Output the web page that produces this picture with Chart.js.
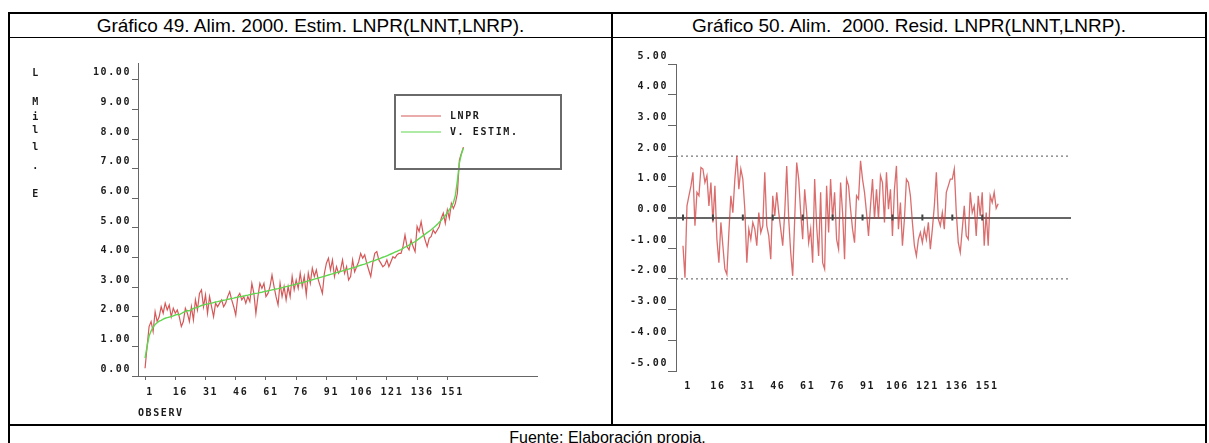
<!DOCTYPE html>
<html lang="es">
<head>
<meta charset="utf-8">
<title>Gráficos 49 y 50</title>
<script src="https://cdn.jsdelivr.net/npm/chart.js@4.4.1/dist/chart.umd.min.js"></script>
<style>
  html, body { margin: 0; padding: 0; background: #fff; }
  body { position: relative; width: 1209px; height: 443px; overflow: hidden; font-family: "Liberation Sans", Arial, sans-serif; color: #000; }
  .rule { position: absolute; background: #000; }
  .cap { position: absolute; font-size: 19px; line-height: 22px; text-align: center; white-space: pre; }
  .foot { position: absolute; font-size: 16px; line-height: 20px; text-align: center; }
  canvas { position: absolute; }
</style>
</head>
<body>
  <div class="rule" style="left:8px; top:12px; width:1199px; height:2px;"></div>
  <div class="rule" style="left:8px; top:37px; width:1199px; height:1px;"></div>
  <div class="rule" style="left:8px; top:424px; width:1199px; height:2px;"></div>
  <div class="rule" style="left:8px; top:12px; width:2px; height:431px;"></div>
  <div class="rule" style="left:1205px; top:12px; width:2px; height:431px;"></div>
  <div class="rule" style="left:611px; top:12px; width:2px; height:414px;"></div>
  <div class="cap" style="left:10px; width:601px; top:15px;">Gráfico 49. Alim. 2000. Estim. LNPR(LNNT,LNRP).</div>
  <div class="cap" style="left:613px; width:592px; top:15px;">Gráfico 50. Alim.  2000. Resid. LNPR(LNNT,LNRP).</div>
  <div class="foot" style="left:10px; width:1195px; top:428px;">Fuente: Elaboración propia.</div>
  <canvas id="estim" width="600" height="385" style="left:10px; top:39px;"></canvas>
  <canvas id="resid" width="592" height="385" style="left:613px; top:39px;"></canvas>

<script>
// observed LNPR (gráfico 49, red)
var lnpr = [
  0.26, 0.99, 1.67, 1.84, 1.50, 2.17, 1.84, 2.00, 2.34, 2.12,
  2.46, 2.23, 2.40, 2.00, 2.29, 2.12, 2.23, 2.00, 1.67, 1.84,
  2.29, 2.12, 1.84, 2.34, 1.89, 2.57, 2.23, 2.79, 2.91, 2.34,
  2.74, 2.12, 2.68, 2.34, 2.00, 2.46, 2.34, 2.46, 2.57, 2.34,
  2.46, 2.68, 2.85, 2.57, 2.34, 2.06, 2.68, 2.79, 2.57, 2.68,
  2.46, 2.68, 2.51, 3.13, 2.79, 2.11, 2.68, 3.13, 2.96, 3.13,
  2.68, 2.79, 3.02, 3.41, 3.02, 2.68, 2.40, 3.13, 2.68, 3.02,
  2.57, 3.02, 2.68, 3.36, 2.91, 3.24, 2.96, 3.47, 3.02, 3.36,
  2.74, 3.47, 3.13, 3.64, 3.36, 3.58, 3.24, 3.02, 2.79, 3.47,
  3.81, 3.98, 3.58, 3.92, 3.36, 3.69, 3.47, 3.58, 3.92, 3.47,
  3.69, 3.24, 3.36, 3.92, 3.52, 3.69, 3.86, 4.14, 3.98, 4.09,
  3.81, 3.58, 3.36, 3.81, 4.14, 4.20, 3.92, 3.81, 3.69, 3.75,
  3.92, 3.69, 3.86, 4.03, 3.98, 4.09, 4.14, 4.14, 4.37, 4.76,
  4.37, 4.26, 4.59, 4.37, 4.20, 5.05, 4.88, 5.21, 4.82, 4.59,
  4.37, 4.65, 4.71, 4.93, 4.82, 4.93, 5.05, 5.33, 5.50, 5.16,
  5.61, 5.33, 5.83, 5.66, 5.83, 6.17, 7.30, 7.52, 7.73
];

// fitted values (green)
var estim = [
  0.60, 1.00, 1.35, 1.52, 1.65, 1.74, 1.80, 1.85, 1.88, 1.92,
  1.95, 1.97, 1.99, 2.01, 2.03, 2.06, 2.08, 2.07, 2.11, 2.15,
  2.18, 2.21, 2.20, 2.24, 2.28, 2.30, 2.32, 2.35, 2.38, 2.40,
  2.42, 2.43, 2.45, 2.46, 2.48, 2.50, 2.51, 2.53, 2.54, 2.56,
  2.57, 2.59, 2.60, 2.62, 2.63, 2.65, 2.66, 2.68, 2.69, 2.70,
  2.72, 2.73, 2.75, 2.76, 2.78, 2.79, 2.80, 2.82, 2.83, 2.85,
  2.86, 2.88, 2.89, 2.91, 2.92, 2.94, 2.95, 2.97, 2.98, 3.00,
  3.02, 3.03, 3.05, 3.07, 3.08, 3.10, 3.12, 3.14, 3.15, 3.17,
  3.19, 3.21, 3.23, 3.25, 3.27, 3.29, 3.31, 3.33, 3.35, 3.37,
  3.39, 3.41, 3.43, 3.45, 3.47, 3.49, 3.51, 3.53, 3.55, 3.57,
  3.59, 3.61, 3.63, 3.65, 3.67, 3.69, 3.72, 3.74, 3.76, 3.78,
  3.81, 3.83, 3.86, 3.88, 3.90, 3.93, 3.95, 3.98, 4.01, 4.03,
  4.06, 4.09, 4.12, 4.15, 4.18, 4.21, 4.24, 4.27, 4.31, 4.35,
  4.38, 4.42, 4.46, 4.50, 4.54, 4.59, 4.64, 4.69, 4.74, 4.79,
  4.84, 4.89, 4.94, 5.00, 5.06, 5.12, 5.19, 5.26, 5.34, 5.42,
  5.52, 5.62, 5.72, 5.85, 6.10, 6.60, 7.20, 7.50, 7.70
];

// residuals (gráfico 50)
var resid = [
  -0.92, -1.96, 0.38, 0.71, 1.03, 1.47, -0.27, 0.82, 0.71, 1.63,
  1.58, 1.14, 1.36, 0.38, 1.14, -0.16, 1.03, -0.71, -1.47, -0.16,
  -0.92, -1.68, -1.85, -0.49, 0.71, 0.16, 1.25, 2.01, 0.92, 1.58,
  1.25, 0.27, -1.47, -0.38, -0.71, -0.16, -0.38, -0.92, 0.16, -0.49,
  -0.27, 1.47, -0.27, -0.60, -1.36, 0.71, 0.05, 0.82, 0.16, -0.38,
  -0.92, 0.16, 1.68, -0.05, -1.14, -1.90, -0.05, 1.79, 1.25, 0.16,
  -0.71, 0.92, 0.16, -0.82, -0.38, -1.47, 1.25, -0.27, -1.25, 0.82,
  -1.47, -1.68, 1.03, -0.49, 1.25, -0.05, 0.82, -0.71, -1.03, 1.14,
  0.16, -1.36, 1.25, 1.03, 0.27, -0.38, -0.82, 0.71, 0.60, 1.85,
  1.25, 0.82, 0.16, -0.60, 0.38, 1.25, -0.05, 0.92, -0.05, 1.36,
  1.14, -0.16, 1.47, 0.27, 0.92, -0.60, 0.92, 1.68, -0.38, 0.49,
  -0.92, -0.05, 1.25, 1.14, 0.71, -0.16, -0.92, -1.25, -0.71, -0.49,
  -0.82, -0.38, -0.71, -0.16, -1.03, -0.38, 0.38, 1.47, -0.05, -0.27,
  0.16, -0.38, 0.82, 1.03, 1.25, 1.25, 1.58, 0.16, -0.82, -1.14,
  -0.38, 0.38, -0.60, -0.71, 0.82, 0.16, 0.38, -0.60, 0.71, 0.05,
  0.82, -0.92, 0.16, -0.92, 0.71, 0.49, 0.82, 0.30, 0.45
];

var xTicks = [1, 16, 31, 46, 61, 76, 91, 106, 121, 136, 151];
var yTicksEstim = [0, 1, 2, 3, 4, 5, 6, 7, 8, 9, 10];
var yTicksResid = [-5, -4, -3, -2, -1, 0, 1, 2, 3, 4, 5];
var bandLevels = [2, -2];
var axisLabelChars = ['L', 'M', 'i', 'l', 'l', '.', 'E'];
var obs = lnpr.map(function (v, i) { return i + 1; });

var X_MIN = -2.5, X_MAX = 195.5;
var TICK_FONT = { family: '"DejaVu Sans Mono", monospace', size: 10, weight: 'bold' };
var INK = '#1a1a1a';

Chart.defaults.font.family = TICK_FONT.family;
Chart.defaults.font.size = 10;
Chart.defaults.font.weight = 'bold';
Chart.defaults.color = INK;

// wide pixel-like look of the old DOS fonts
var spacing = {
    id: 'spacing',
    beforeLayout: function (chart) { chart.ctx.letterSpacing = '1.6px'; },
    beforeDraw: function (chart) { chart.ctx.letterSpacing = '1.6px'; }
};

var legendBox = {
    id: 'legendBox',
    afterDraw: function (chart) {
        var ctx = chart.ctx;
        ctx.save();
        ctx.strokeStyle = '#6a6a6a';
        ctx.lineWidth = 2;
        ctx.strokeRect(385, 56, 166, 74);
        chart.data.datasets.forEach(function (ds, i) {
            var y = 77 + i * 16;
            ctx.strokeStyle = ds.borderColor;
            ctx.lineWidth = 1.2;
            ctx.beginPath();
            ctx.moveTo(391, y);
            ctx.lineTo(431, y);
            ctx.stroke();
            ctx.fillStyle = INK;
            ctx.font = 'bold 10px "DejaVu Sans Mono"';
            ctx.textBaseline = 'middle';
            ctx.fillText(ds.label, 440, y);
        });
        ctx.restore();
    }
};

var sideLabel = {
    id: 'sideLabel',
    afterDraw: function (chart) {
        var ctx = chart.ctx;
        var ys = [34, 63, 78, 91, 108, 127, 155];
        ctx.save();
        ctx.fillStyle = INK;
        ctx.font = 'bold 10px "DejaVu Sans Mono"';
        ctx.textAlign = 'center';
        ctx.textBaseline = 'middle';
        axisLabelChars.forEach(function (c, i) {
            ctx.fillText(c, 26, ys[i]);
        });
        ctx.restore();
    }
};

function fixTicks(list) {
    return function (scale) {
        scale.ticks = list.map(function (v) { return { value: v }; });
    };
}

var estimCfg = {
    type: 'line',
    data: {
        labels: obs,
        datasets: [{
            label: 'LNPR',
            data: lnpr,
            borderColor: 'rgba(208,70,70,0.9)',
            borderWidth: 1.2,
            pointRadius: 0,
            order: 1
        }, {
            label: 'V. ESTIM.',
            data: estim,
            borderColor: 'rgb(96,214,80)',
            borderWidth: 1.4,
            pointRadius: 0,
            order: 0
        }]
    },
    options: {
        responsive: false,
        animation: false,
        devicePixelRatio: 1,
        layout: { padding: { left: 0, right: 73, top: 24, bottom: 0 } },
        plugins: { legend: { display: false }, tooltip: { enabled: false } },
        scales: {
            x: {
                type: 'linear',
                min: X_MIN,
                max: X_MAX,
                afterBuildTicks: fixTicks(xTicks),
                afterFit: function (s) { s.height = 48; },
                border: { color: '#666', width: 1 },
                grid: { drawOnChartArea: false, tickLength: 4, color: '#666' },
                ticks: { font: TICK_FONT, color: INK, padding: 6, labelOffset: 5, maxRotation: 0, autoSkip: false },
                title: { display: true, text: 'OBSERV', align: 'start', font: TICK_FONT, color: INK, padding: { top: 0, bottom: 5 } }
            },
            y: {
                min: 0,
                max: 10.57,
                afterBuildTicks: fixTicks(yTicksEstim),
                afterFit: function (s) { s.width = 128; },
                border: { color: '#666', width: 1 },
                grid: { drawOnChartArea: false, tickLength: 6, color: '#666' },
                ticks: {
                    font: TICK_FONT, color: INK, padding: 1, labelOffset: -7,
                    callback: function (v) { return v.toFixed(2); }
                }
            }
        }
    },
    plugins: [spacing, legendBox, sideLabel]
};

var bandSets = bandLevels.map(function (lv) {
    return {
        label: 'banda',
        data: [{ x: X_MIN, y: lv }, { x: X_MAX, y: lv }],
        borderColor: '#555',
        borderWidth: 1,
        borderDash: [2, 3],
        pointRadius: 0,
        order: 2
    };
});

var residCfg = {
    type: 'line',
    data: {
        labels: obs,
        datasets: [{
            label: 'RESID',
            data: resid,
            borderColor: 'rgba(205,60,60,0.75)',
            borderWidth: 1.3,
            pointRadius: 0,
            order: 1
        }, {
            label: 'marcas',
            data: xTicks.map(function (v) { return { x: v, y: 0 }; }),
            showLine: false,
            pointStyle: 'line',
            rotation: 90,
            pointRadius: 3,
            borderColor: '#444',
            borderWidth: 2,
            order: 0
        }].concat(bandSets)
    },
    options: {
        responsive: false,
        animation: false,
        devicePixelRatio: 1,
        layout: { padding: { left: 0, right: 134, top: 25, bottom: 0 } },
        plugins: { legend: { display: false }, tooltip: { enabled: false } },
        scales: {
            x: {
                type: 'linear',
                min: X_MIN,
                max: X_MAX,
                afterBuildTicks: fixTicks(xTicks),
                afterFit: function (s) { s.height = 53; },
                border: { display: false },
                grid: { display: false, drawTicks: false },
                ticks: { font: TICK_FONT, color: INK, padding: 9, labelOffset: 5, maxRotation: 0, autoSkip: false }
            },
            y: {
                min: -5,
                max: 5,
                afterBuildTicks: fixTicks(yTicksResid),
                afterFit: function (s) { s.width = 63; },
                border: { color: '#666', width: 1 },
                grid: {
                    tickLength: 8,
                    tickColor: '#666',
                    color: function (c) { return c.tick && c.tick.value === 0 ? '#666' : 'rgba(0,0,0,0)'; },
                    lineWidth: function (c) { return c.tick && c.tick.value === 0 ? 2 : 1; }
                },
                ticks: {
                    font: TICK_FONT, color: INK, padding: 0, labelOffset: -8,
                    callback: function (v) { return v.toFixed(2); }
                }
            }
        }
    },
    plugins: [spacing]
};

window.onload = function () {
    var ctx1 = document.getElementById('estim').getContext('2d');
    window.chartEstim = new Chart(ctx1, estimCfg);
    var ctx2 = document.getElementById('resid').getContext('2d');
    window.chartResid = new Chart(ctx2, residCfg);
};
</script>
</body>
</html>
